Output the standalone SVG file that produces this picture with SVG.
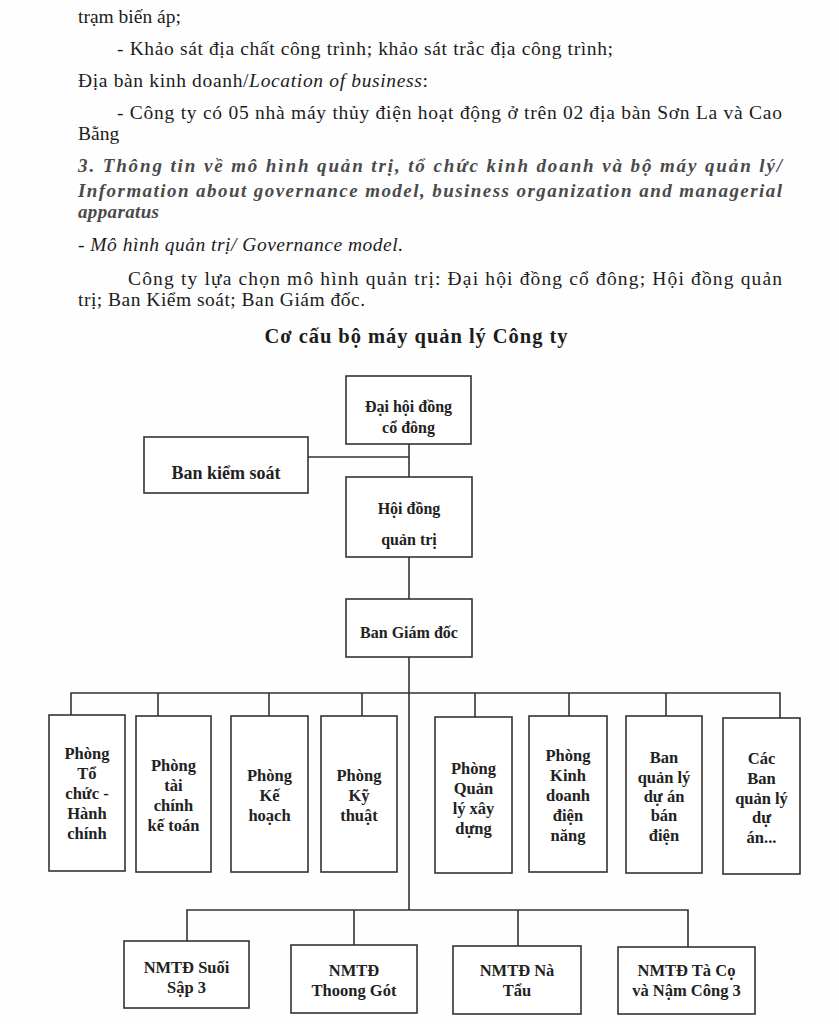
<svg xmlns="http://www.w3.org/2000/svg" width="839" height="1024" viewBox="0 0 839 1024">
<style>
.body{font-family:"Liberation Serif","Times New Roman",serif;font-size:19.5px;fill:#1c1c1c}
.it{font-style:italic}
.hd{font-family:"Liberation Serif","Times New Roman",serif;font-size:19px;font-style:italic;font-weight:bold;fill:#4a4a4a}
.title{font-family:"Liberation Serif","Times New Roman",serif;font-size:20.5px;font-weight:bold;fill:#1c1c1c;text-anchor:middle}
.box{fill:#fff;stroke:#333;stroke-width:1.6}
.lbl{font-family:"Liberation Serif","Times New Roman",serif;font-size:16px;font-weight:bold;fill:#222;text-anchor:middle}
.lbl2{font-family:"Liberation Serif","Times New Roman",serif;font-size:16.5px;font-weight:bold;fill:#222;text-anchor:middle}
.lbl3{font-family:"Liberation Serif","Times New Roman",serif;font-size:18px;font-weight:bold;fill:#222;text-anchor:middle}
.conn{stroke:#333;stroke-width:1.6;fill:none}
</style>
<rect width="839" height="1024" fill="#fefefe"/>
<g id="text">
<text class="body" x="78" y="23">trạm biến áp;</text>
<text class="body" x="117" y="55" textLength="496">- Khảo sát địa chất công trình; khảo sát trắc địa công trình;</text>
<text class="body" x="78" y="87" textLength="350">Địa bàn kinh doanh/<tspan class="it">Location of business</tspan>:</text>
<text class="body" x="117" y="119" textLength="665">- Công ty có 05 nhà máy thủy điện hoạt động ở trên 02 địa bàn Sơn La và Cao</text>
<text class="body" x="78" y="140">Bằng</text>
<text class="hd" x="78" y="172" textLength="704">3. Thông tin về mô hình quản trị, tổ chức kinh doanh và bộ máy quản lý/</text>
<text class="hd" x="78" y="197" textLength="704">Information about governance model, business organization and managerial</text>
<text class="hd" x="78" y="218" textLength="81">apparatus</text>
<text class="body it" x="78" y="251" textLength="325">- Mô hình quản trị/ Governance model.</text>
<text class="body" x="128" y="285" textLength="654">Công ty lựa chọn mô hình quản trị: Đại hội đồng cổ đông; Hội đồng quản</text>
<text class="body" x="78" y="306" textLength="287">trị; Ban Kiểm soát; Ban Giám đốc.</text>
<text class="title" x="416" y="343" textLength="303">Cơ cấu bộ máy quản lý Công ty</text>
</g>
<g id="connectors">
<path class="conn" d="M409 444V477M308 457H409M409 557V599M409 657V910"/>
<path class="conn" d="M71 716V693H780V718M158 693V716M269 693V716M362 693V716M475 693V717M569 693V716M666 693V716"/>
<path class="conn" d="M187 941V910H688V947M354 910V945M518 910V946"/>
</g>
<g id="n-daihoi"><rect class="box" x="346" y="376" width="125" height="68"/><text class="lbl" x="408.5" y="412">Đại hội đồng</text><text class="lbl" x="408.5" y="433">cổ đông</text></g>
<g id="n-bks"><rect class="box" x="144" y="437" width="164" height="56"/><text class="lbl3" x="226" y="479">Ban kiểm soát</text></g>
<g id="n-hdqt"><rect class="box" x="346" y="477" width="126" height="80"/><text class="lbl" x="409" y="514">Hội đồng</text><text class="lbl" x="409" y="545">quản trị</text></g>
<g id="n-bgd"><rect class="box" x="346" y="599" width="126" height="58"/><text class="lbl" x="409" y="638">Ban Giám đốc</text></g>
<g id="n-p1"><rect class="box" x="49" y="715" width="76" height="156"/><text class="lbl2"><tspan x="87" y="759">Phòng</tspan><tspan x="87" y="779">Tổ</tspan><tspan x="87" y="799">chức -</tspan><tspan x="87" y="819">Hành</tspan><tspan x="87" y="839">chính</tspan></text></g>
<g id="n-p2"><rect class="box" x="136" y="716" width="75" height="156"/><text class="lbl2"><tspan x="173.5" y="771">Phòng</tspan><tspan x="173.5" y="791">tài</tspan><tspan x="173.5" y="811">chính</tspan><tspan x="173.5" y="831">kế toán</tspan></text></g>
<g id="n-p3"><rect class="box" x="231" y="716" width="77" height="156"/><text class="lbl2"><tspan x="269.5" y="781">Phòng</tspan><tspan x="269.5" y="801">Kế</tspan><tspan x="269.5" y="821">hoạch</tspan></text></g>
<g id="n-p4"><rect class="box" x="321" y="716" width="76" height="156"/><text class="lbl2"><tspan x="359" y="781">Phòng</tspan><tspan x="359" y="801">Kỹ</tspan><tspan x="359" y="821">thuật</tspan></text></g>
<g id="n-p5"><rect class="box" x="435" y="717" width="77" height="156"/><text class="lbl2"><tspan x="473.5" y="774">Phòng</tspan><tspan x="473.5" y="794">Quản</tspan><tspan x="473.5" y="814">lý xây</tspan><tspan x="473.5" y="834">dựng</tspan></text></g>
<g id="n-p6"><rect class="box" x="529" y="716" width="78" height="156"/><text class="lbl2"><tspan x="568" y="761">Phòng</tspan><tspan x="568" y="781">Kinh</tspan><tspan x="568" y="801">doanh</tspan><tspan x="568" y="821">điện</tspan><tspan x="568" y="841">năng</tspan></text></g>
<g id="n-p7"><rect class="box" x="626" y="716" width="76" height="157"/><text class="lbl2"><tspan x="664" y="763">Ban</tspan><tspan x="664" y="783">quản lý</tspan><tspan x="664" y="802">dự án</tspan><tspan x="664" y="821">bán</tspan><tspan x="664" y="841">điện</tspan></text></g>
<g id="n-p8"><rect class="box" x="723" y="718" width="77" height="156"/><text class="lbl2"><tspan x="761.5" y="764">Các</tspan><tspan x="761.5" y="784">Ban</tspan><tspan x="761.5" y="804">quản lý</tspan><tspan x="761.5" y="823">dự</tspan><tspan x="761.5" y="843">án...</tspan></text></g>
<g id="n-b1"><rect class="box" x="124" y="941" width="125" height="67"/><text class="lbl2"><tspan x="186.5" y="973">NMTĐ Suối</tspan><tspan x="186.5" y="993">Sập 3</tspan></text></g>
<g id="n-b2"><rect class="box" x="291" y="945" width="126" height="68"/><text class="lbl2"><tspan x="354" y="976">NMTĐ</tspan><tspan x="354" y="996">Thoong Gót</tspan></text></g>
<g id="n-b3"><rect class="box" x="453" y="946" width="128" height="68"/><text class="lbl2"><tspan x="517" y="976">NMTĐ Nà</tspan><tspan x="517" y="996">Tẩu</tspan></text></g>
<g id="n-b4"><rect class="box" x="618" y="947" width="137" height="67"/><text class="lbl2"><tspan x="686.5" y="976">NMTĐ Tà Cọ</tspan><tspan x="686.5" y="996">và Nậm Công 3</tspan></text></g>
</svg>
